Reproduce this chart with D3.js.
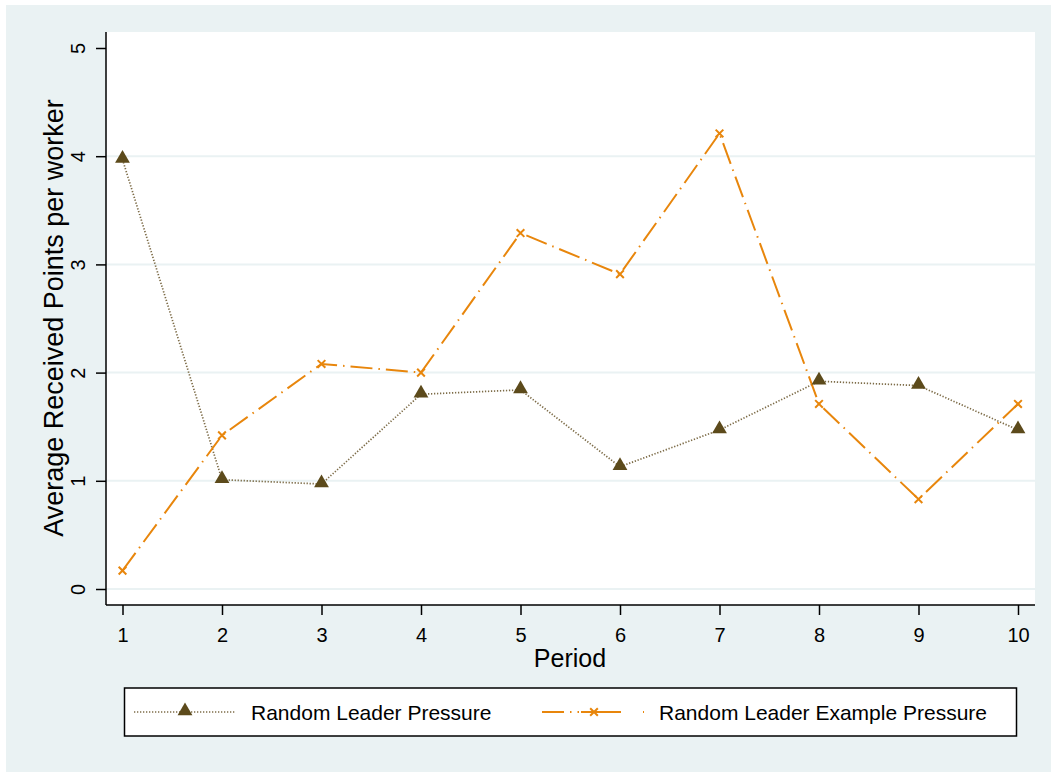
<!DOCTYPE html>
<html>
<head>
<meta charset="utf-8">
<script src="https://cdn.jsdelivr.net/npm/d3@7"></script>
<style>
  body { margin: 0; background: #ffffff; }
  text { font-family: "Liberation Sans", Arial, sans-serif; fill: #000; }
</style>
</head>
<body>
<script>
'use strict';

// chart data
const periods = [1, 2, 3, 4, 5, 6, 7, 8, 9, 10];
const pressure = [3.97, 1.01, 0.97, 1.80, 1.84, 1.13, 1.47, 1.92, 1.88, 1.47];
const examplePressure = [0.17, 1.42, 2.08, 2.00, 3.29, 2.91, 4.21, 1.71, 0.83, 1.71];
const yTicks = [0, 1, 2, 3, 4, 5];
const seriesNames = ["Random Leader Pressure", "Random Leader Example Pressure"];

const width = 1051, height = 772;
const plot = { left: 106, right: 1035, top: 32, bottom: 605 };

let svg = d3.select('body')
  .append('svg')
  .attr('width', width)
  .attr('height', height);

// outer background
svg.append('rect')
  .attr('x', 6).attr('y', 5)
  .attr('width', width - 6).attr('height', height - 5)
  .attr('fill', '#eaf2f3');

// plot region
svg.append('rect')
  .attr('x', plot.left).attr('y', plot.top)
  .attr('width', plot.right - plot.left).attr('height', plot.bottom - plot.top)
  .attr('fill', '#ffffff');

let xScale = d3.scaleLinear().domain([1, 10]).range([122.5, 1018]);
let yScale = d3.scaleLinear().domain([0, 5]).range([589, 48]);

// gridlines
svg.append('g')
  .selectAll('line')
  .data(yTicks.filter(d => d < 5))
  .enter()
  .append('line')
  .attr('x1', plot.left).attr('x2', plot.right)
  .attr('y1', d => yScale(d)).attr('y2', d => yScale(d))
  .attr('stroke', '#eaf2f3')
  .attr('stroke-width', 2);

// y axis
let yAxis = d3.axisLeft(yScale).tickValues(yTicks).tickSize(10).tickPadding(0).tickFormat(d3.format('d'));
let gy = svg.append('g')
  .attr('transform', 'translate(' + plot.left + ',0)')
  .call(yAxis)
  .attr('font-size', 20)
  .attr('font-family', null);
gy.select('.domain').attr('d', 'M0,' + plot.top + 'V' + plot.bottom).attr('stroke', '#000').attr('stroke-width', 1.5);
gy.selectAll('.tick line').attr('stroke', '#000').attr('stroke-width', 1.5);
gy.selectAll('.tick text')
  .attr('x', 0).attr('dy', null)
  .attr('transform', 'translate(-21,0) rotate(-90)')
  .attr('text-anchor', 'middle')
  .style('font-size', '20px');

// x axis
let xAxis = d3.axisBottom(xScale).tickValues(periods).tickSize(10).tickPadding(0).tickFormat(d3.format('d'));
let gx = svg.append('g')
  .attr('transform', 'translate(0,' + plot.bottom + ')')
  .call(xAxis)
  .attr('font-size', 20)
  .attr('font-family', null);
gx.select('.domain').attr('d', 'M' + plot.left + ',0H' + plot.right).attr('stroke', '#000').attr('stroke-width', 1.5);
gx.selectAll('.tick line').attr('stroke', '#000').attr('stroke-width', 1.5);
gx.selectAll('.tick text')
  .attr('y', 36.5).attr('dy', null)
  .style('font-size', '20px');

// axis titles
svg.append('text')
  .attr('transform', 'translate(63,318) rotate(-90)')
  .attr('text-anchor', 'middle')
  .style('font-size', '27px')
  .text('Average Received Points per worker');

svg.append('text')
  .attr('x', 570).attr('y', 667)
  .attr('text-anchor', 'middle')
  .style('font-size', '25px')
  .text('Period');

// lines
const brown = '#5c4a1b';
const orange = '#e8860c';
let line = d3.line().x((d, i) => xScale(periods[i])).y(d => yScale(d));

svg.append('path')
  .datum(pressure)
  .attr('d', line)
  .attr('fill', 'none')
  .attr('stroke', '#7d6c48')
  .attr('stroke-width', 1.7)
  .attr('stroke-dasharray', '1.3 1.7');

svg.append('path')
  .datum(examplePressure)
  .attr('d', line)
  .attr('fill', 'none')
  .attr('stroke', orange)
  .attr('stroke-width', 2)
  .attr('stroke-dasharray', '22 6 1.5 6');

// markers
let triangle = d3.symbol().type(d3.symbolTriangle).size(95);
svg.append('g')
  .selectAll('path')
  .data(pressure)
  .enter()
  .append('path')
  .attr('d', triangle)
  .attr('transform', (d, i) => 'translate(' + xScale(periods[i]) + ',' + (yScale(d) - 1) + ')')
  .attr('fill', brown);

let cross = d3.symbol().type(d3.symbolX).size(40);
svg.append('g')
  .selectAll('path')
  .data(examplePressure)
  .enter()
  .append('path')
  .attr('d', cross)
  .attr('transform', (d, i) => 'translate(' + xScale(periods[i]) + ',' + yScale(d) + ')')
  .attr('fill', 'none')
  .attr('stroke', orange)
  .attr('stroke-width', 2);

// legend
let legend = svg.append('g');
legend.append('rect')
  .attr('x', 124.5).attr('y', 688)
  .attr('width', 892).attr('height', 48)
  .attr('fill', '#ffffff')
  .attr('stroke', '#000')
  .attr('stroke-width', 1.5);

const ly = 712;
legend.append('line')
  .attr('x1', 134).attr('x2', 236).attr('y1', ly).attr('y2', ly)
  .attr('stroke', '#7d6c48').attr('stroke-width', 1.7)
  .attr('stroke-dasharray', '1.3 1.7');
legend.append('path')
  .attr('d', triangle)
  .attr('transform', 'translate(185,' + (ly - 1) + ')')
  .attr('fill', brown);
legend.append('text')
  .attr('x', 251).attr('y', ly + 7.5)
  .style('font-size', '21px')
  .text(seriesNames[0]);

legend.append('line')
  .attr('x1', 542).attr('x2', 644).attr('y1', ly).attr('y2', ly)
  .attr('stroke', orange).attr('stroke-width', 2)
  .attr('stroke-dasharray', '22 6 1.5 6 1.5 2 40');
legend.append('path')
  .attr('d', cross)
  .attr('transform', 'translate(594,' + ly + ')')
  .attr('fill', 'none')
  .attr('stroke', orange)
  .attr('stroke-width', 2);
legend.append('text')
  .attr('x', 659).attr('y', ly + 7.5)
  .style('font-size', '21px')
  .text(seriesNames[1]);
</script>
</body>
</html>
